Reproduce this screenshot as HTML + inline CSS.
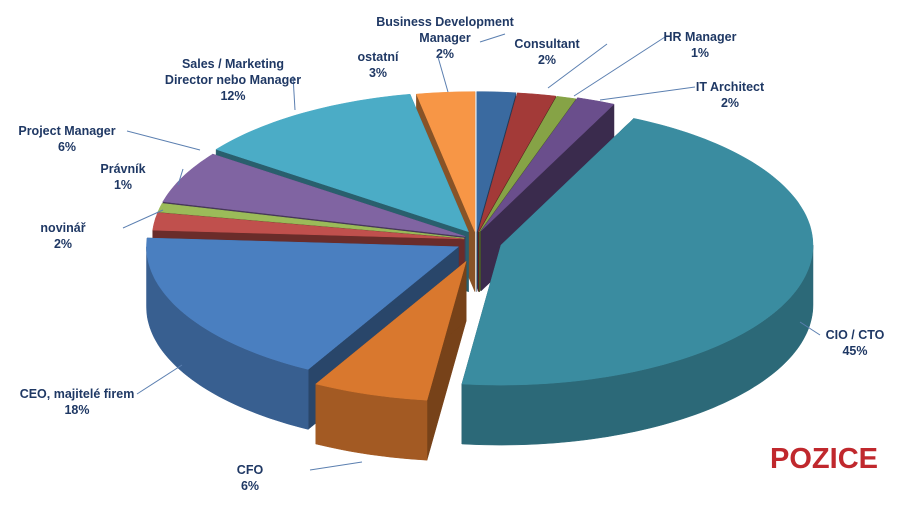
<!DOCTYPE html>
<html><head><meta charset="utf-8">
<style>
html,body{margin:0;padding:0;background:#fff;}
svg{display:block;font-family:"Liberation Sans",Verdana,sans-serif;}
.lbl{font-size:12.5px;font-weight:bold;fill:#1f3864;}
</style></head>
<body>
<svg id="chart" width="900" height="505" viewBox="0 0 900 505">
<g id="slices"></g>
<g id="labels"></g>
<text x="878" y="468" text-anchor="end" font-size="29" font-weight="bold" fill="#c0282d">POZICE</text>
</svg>
<script>
const categories = ["Business Development Manager","Consultant","HR Manager","IT Architect","CIO  /  CTO","CFO","CEO, majitelé  firem","novinář","Právník","Project Manager","Sales / Marketing Director nebo Manager","ostatní"];
const values = [2,2,1,2,45,6,18,2,1,6,12,3];
const colors = ["#3a6aa0","#a33a38","#86a346","#6a4e8c","#3a8ca0","#d9782e","#4a7fc0","#c0504d","#9bbb59","#8064a2","#4bacc6","#f79646"];
const explode = [12,12,12,14,26,32,20,12,12,12,14,12];
// label layout: [anchorX, anchorY, lines, lineEndX, lineEndY]
const labelLayout = [
 [445,26,["Business Development","Manager"],480,42],
 [547,48,["Consultant"],548,88],
 [700,41,["HR Manager"],574,96],
 [730,91,["IT Architect"],600,100],
 [855,339,["CIO  /  CTO"],800,322],
 [250,474,["CFO"],362,462],
 [77,398,["CEO, majitelé  firem"],182,365],
 [63,232,["novinář"],163,210],
 [123,173,["Právník"],178,185],
 [67,135,["Project Manager"],200,150],
 [233,68,["Sales / Marketing","Director nebo Manager"],295,110],
 [378,61,["ostatní"],448,92]
];
const CX=476, CY=240, RX=312, RY=140, DEPTH=60;
const NS="http://www.w3.org/2000/svg";
function shade(hex,f){const n=parseInt(hex.slice(1),16);const r=(n>>16)&255,g=(n>>8)&255,b=n&255;return "rgb("+Math.round(r*f)+","+Math.round(g*f)+","+Math.round(b*f)+")";}
function pt(cx,cy,a,dy){return [cx+RX*Math.sin(a), cy-RY*Math.cos(a)+(dy||0)];}
const total=values.reduce((s,v)=>s+v,0);
const gS=document.getElementById("slices"), gL=document.getElementById("labels");
let start=0; const slices=[];
values.forEach((v,i)=>{const a1=start/total*2*Math.PI; start+=v; const a2=start/total*2*Math.PI; slices.push({i,a1,a2,mid:(a1+a2)/2});});
slices.sort((p,q)=>(-Math.cos(p.mid))-(-Math.cos(q.mid)));
const f=p=>p[0].toFixed(1)+","+p[1].toFixed(1);
function arcPts(cx,cy,a1,a2,dy){const steps=Math.max(4,Math.ceil((a2-a1)*40));const r=[];for(let k=0;k<=steps;k++){r.push(pt(cx,cy,a1+(a2-a1)*k/steps,dy));}return r;}
slices.forEach(s=>{
  const e=explode[s.i];
  const cx=CX+e*Math.sin(s.mid), cy=CY-e*0.7*Math.cos(s.mid);
  const g=document.createElementNS(NS,"g");
  
  
  const side=shade(colors[s.i],0.55), wall=shade(colors[s.i],0.75);
  const mk=(d,fill)=>{const p=document.createElementNS(NS,"path");p.setAttribute("d",d);p.setAttribute("fill",fill);p.setAttribute("stroke",fill);p.setAttribute("stroke-width","0.5");
    
    
    g.appendChild(p);};
  const t0=pt(cx,cy,s.a1), t1=pt(cx,cy,s.a2);
  // radial walls
  mk("M"+cx+","+cy+"L"+f(t0)+"L"+f([t0[0],t0[1]+DEPTH])+"L"+cx+","+(cy+DEPTH)+"Z",side);
  mk("M"+cx+","+cy+"L"+f(t1)+"L"+f([t1[0],t1[1]+DEPTH])+"L"+cx+","+(cy+DEPTH)+"Z",side);
  // outer wall (front part only)
  const w1=Math.max(s.a1,Math.PI/2), w2=Math.min(s.a2,3*Math.PI/2);
  if(w2>w1){
    const top=arcPts(cx,cy,w1,w2,0), bot=arcPts(cx,cy,w1,w2,DEPTH);
    mk("M"+top.map(f).join("L")+"L"+bot.reverse().map(f).join("L")+"Z",wall);
  }
  // top
  mk("M"+cx+","+cy+"L"+arcPts(cx,cy,s.a1,s.a2,0).map(f).join("L")+"Z",colors[s.i]);
  gS.appendChild(g);
});
labelLayout.forEach((L,i)=>{
  const [x,y,lines,ex,ey]=L;
  const n=lines.length+1;
  const ln=document.createElementNS(NS,"line");
  ln.setAttribute("x1",ex);ln.setAttribute("y1",ey);
  ln.setAttribute("x2",x<ex? x+60 : x-35);ln.setAttribute("y2",y+(n>2?8:-4));
  ln.setAttribute("stroke","#5b7fb0");ln.setAttribute("stroke-width","1");
  
  
  gL.appendChild(ln);
  const t=document.createElementNS(NS,"text");
  t.setAttribute("class","lbl");t.setAttribute("text-anchor","middle");
  
  
  lines.concat([values[i]+"%"]).forEach((s,k)=>{const ts=document.createElementNS(NS,"tspan");ts.setAttribute("x",x);ts.setAttribute("y",y+k*16);ts.textContent=s;t.appendChild(ts);});
  gL.appendChild(t);
});
</script>
</body></html>
